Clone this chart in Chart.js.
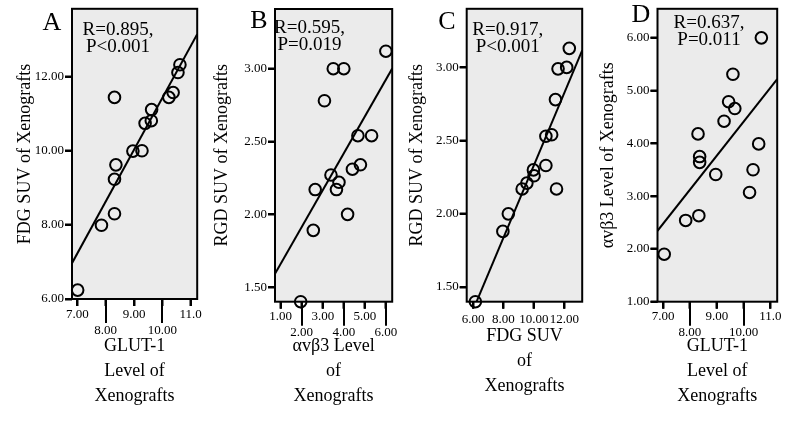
<!DOCTYPE html>
<html>
<head>
<meta charset="utf-8">
<script src="https://cdn.jsdelivr.net/npm/chart.js@4.4.1/dist/chart.umd.min.js"></script>
<style>
  html, body { margin: 0; padding: 0; background: #fff; }
  #wrap { position: relative; width: 787px; height: 423px; overflow: hidden; }
  .panel { position: absolute; top: 0; }
</style>
</head>
<body>
<div id="wrap">
  <canvas id="chartA" class="panel" width="205" height="423" style="left:0px"></canvas>
  <canvas id="chartB" class="panel" width="195" height="423" style="left:205px"></canvas>
  <canvas id="chartC" class="panel" width="190" height="423" style="left:400px"></canvas>
  <canvas id="chartD" class="panel" width="197" height="423" style="left:590px"></canvas>
</div>
<script>
// Panel A: GLUT-1 vs FDG SUV
const glutA = [7.01, 7.85, 8.31, 8.31, 8.31, 8.36, 8.96, 9.28, 9.39, 9.61, 9.62, 10.23, 10.38, 10.55, 10.62];
const fdgA = [6.24, 7.99, 8.30, 11.44, 9.23, 9.62, 9.99, 10.00, 10.74, 10.81, 11.11, 11.44, 11.57, 12.11, 12.32];

// Panel B: avb3 level vs RGD SUV
const avb3B = [6.00, 3.50, 4.00, 3.08, 4.67, 5.32, 3.39, 3.77, 3.65, 2.64, 4.41, 4.79, 4.18, 2.55, 1.95];
const rgdB = [3.12, 3.00, 3.00, 2.78, 2.54, 2.54, 2.27, 2.22, 2.17, 2.17, 2.31, 2.34, 2.00, 1.89, 1.40];

// Panel C: FDG SUV vs RGD SUV
const fdgC = [12.33, 11.59, 12.16, 11.42, 10.79, 11.17, 10.79, 9.97, 10.01, 9.54, 9.23, 11.49, 8.32, 7.96, 6.15];
const rgdC = [3.13, 2.99, 3.00, 2.78, 2.53, 2.54, 2.33, 2.30, 2.26, 2.21, 2.17, 2.17, 2.00, 1.88, 1.40];

// Panel D: GLUT-1 vs avb3 level
const glutD = [10.66, 9.60, 9.44, 9.67, 9.27, 8.30, 10.56, 8.36, 8.36, 8.96, 10.35, 10.22, 8.33, 7.84, 7.04];
const avb3D = [6.00, 5.31, 4.79, 4.66, 4.42, 4.18, 3.99, 3.75, 3.64, 3.41, 3.50, 3.07, 2.63, 2.54, 1.90];

// tick values and labels
const glutTicks = [7, 8, 9, 10, 11];
const glutTickLabels = ['7.00', '8.00', '9.00', '10.00', '11.0'];
const fdgYTicks = [6, 8, 10, 12];
const fdgYTickLabels = ['6.00', '8.00', '10.00', '12.00'];
const avb3XTicks = [1, 2, 3, 4, 5, 6];
const avb3XTickLabels = ['1.00', '2.00', '3.00', '4.00', '5.00', '6.00'];
const rgdTicks = [1.5, 2, 2.5, 3];
const rgdTickLabels = ['1.50', '2.00', '2.50', '3.00'];
const fdgXTicks = [6, 8, 10, 12];
const fdgXTickLabels = ['6.00', '8.00', '10.00', '12.00'];
const avb3YTicks = [1, 2, 3, 4, 5, 6];
const avb3YTickLabels = ['1.00', '2.00', '3.00', '4.00', '5.00', '6.00'];

const SERIF = "'Liberation Serif', 'Times New Roman', serif";

// least squares fit, drawn across the x axis range
function fitLine(xs, ys, x0, x1) {
    const n = xs.length;
    const mx = xs.reduce((a, b) => a + b, 0) / n;
    const my = ys.reduce((a, b) => a + b, 0) / n;
    let sxy = 0, sxx = 0;
    for (let i = 0; i < n; i++) {
        sxy += (xs[i] - mx) * (ys[i] - my);
        sxx += (xs[i] - mx) * (xs[i] - mx);
    }
    const b = sxy / sxx;
    return [{ x: x0, y: my + b * (x0 - mx) }, { x: x1, y: my + b * (x1 - mx) }];
}

const panelDecor = {
    id: 'panelDecor',
    beforeDraw(chart, args, o) {
        const { ctx, chartArea: a } = chart;
        ctx.save();
        ctx.fillStyle = '#ebebeb';
        ctx.fillRect(a.left, a.top, a.right - a.left, a.bottom - a.top);
        ctx.restore();
    },
    beforeDatasetsDraw(chart, args, o) {
        const { ctx, chartArea: a } = chart;
        ctx.save();
        ctx.strokeStyle = '#000';
        ctx.lineWidth = 2;
        ctx.strokeRect(a.left, a.top, a.right - a.left, a.bottom - a.top);
        ctx.restore();
    },
    afterDraw(chart, args, o) {
        const { ctx, chartArea: a } = chart;
        const xs = chart.scales.x, ys = chart.scales.y;
        ctx.save();
        ctx.strokeStyle = '#000';
        ctx.lineWidth = 2;
        ctx.lineCap = 'butt';
        // tick marks (long ones for the lower label row)
        xs.ticks.forEach((t, i) => {
            const px = Math.round(xs.getPixelForValue(t.value));
            const len = (o.stagger && i % 2 === 1) ? 24 : 7;
            ctx.beginPath();
            ctx.moveTo(px, a.bottom);
            ctx.lineTo(px, a.bottom + len);
            ctx.stroke();
        });
        ys.ticks.forEach(t => {
            const py = Math.round(ys.getPixelForValue(t.value));
            ctx.beginPath();
            ctx.moveTo(a.left, py);
            ctx.lineTo(a.left - 7, py);
            ctx.stroke();
        });
        ctx.fillStyle = '#000';
        ctx.textAlign = 'center';
        ctx.textBaseline = 'middle';
        ctx.font = '26px ' + SERIF;
        ctx.fillText(o.letter, o.letterX, o.letterY);
        ctx.font = '19px ' + SERIF;
        o.stats.forEach((s, i) => {
            ctx.fillText(s, a.left + o.statsDx, a.top + o.statsDy + i * 17);
        });
        ctx.restore();
    }
};

function makePanel(id, p) {
    const line = fitLine(p.xs, p.ys, p.xMin, p.xMax);
    return new Chart(document.getElementById(id), {
        type: 'scatter',
        data: {
            datasets: [
                {
                    data: line,
                    showLine: true,
                    borderColor: '#000',
                    borderWidth: 2,
                    pointRadius: 0,
                    clip: 0
                },
                {
                    data: p.xs.map((x, i) => ({ x: x, y: p.ys[i] })),
                    pointRadius: 5.8,
                    pointBorderWidth: 2,
                    pointBorderColor: '#000',
                    pointBackgroundColor: 'rgba(0,0,0,0)',
                    clip: false
                }
            ]
        },
        options: {
            responsive: false,
            animation: false,
            events: [],
            layout: { padding: { left: 0, right: p.padRight, top: p.padTop, bottom: 10 } },
            plugins: {
                legend: { display: false },
                tooltip: { enabled: false },
                panelDecor: p.decor
            },
            scales: {
                x: {
                    type: 'linear',
                    min: p.xMin,
                    max: p.xMax,
                    afterBuildTicks: s => { s.ticks = p.xTicks.map(v => ({ value: v })); },
                    afterFit: s => { s.height = p.xHeight; },
                    border: { display: false },
                    grid: { display: true, drawOnChartArea: false, drawTicks: true, tickLength: 7, tickWidth: 2, tickColor: '#000' },
                    ticks: {
                        autoSkip: false,
                        maxRotation: 0,
                        padding: p.xTickPad,
                        color: '#000',
                        font: { family: SERIF, size: 13, lineHeight: 1.25 },
                        callback: (v, i) => (p.decor.stagger && i % 2 === 1) ? ['', p.xTickLabels[i]] : p.xTickLabels[i]
                    },
                    title: {
                        display: true,
                        text: p.xTitle,
                        color: '#000',
                        font: { family: SERIF, size: 18, lineHeight: 1.4 },
                        padding: { top: 0, bottom: p.xTitlePad }
                    }
                },
                y: {
                    type: 'linear',
                    min: p.yMin,
                    max: p.yMax,
                    afterBuildTicks: s => { s.ticks = p.yTicks.map(v => ({ value: v })); },
                    afterFit: s => { s.width = p.yWidth; },
                    border: { display: false },
                    grid: { display: true, drawOnChartArea: false, drawTicks: true, tickLength: 7, tickWidth: 2, tickColor: '#000' },
                    ticks: {
                        autoSkip: false,
                        padding: 1,
                        color: '#000',
                        font: { family: SERIF, size: 13 },
                        callback: (v, i) => p.yTickLabels[i]
                    },
                    title: {
                        display: true,
                        text: p.yTitle,
                        color: '#000',
                        font: { family: SERIF, size: 18, lineHeight: 1.2 },
                        padding: { top: p.yTitlePad, bottom: 0 }
                    }
                }
            }
        },
        plugins: [panelDecor]
    });
}

makePanel('chartA', {
    xs: glutA, ys: fdgA,
    xMin: 6.81, xMax: 11.23, yMin: 6, yMax: 13.83,
    xTicks: glutTicks, xTickLabels: glutTickLabels,
    yTicks: fdgYTicks, yTickLabels: fdgYTickLabels,
    xTitle: ['GLUT-1', 'Level of', 'Xenografts'], yTitle: 'FDG SUV of Xenografts',
    padRight: 3, padTop: 8, xHeight: 114, yWidth: 72, xTitlePad: 4, yTitlePad: 14, xTickPad: 0,
    decor: { stagger: true, letter: 'A', letterX: 52, letterY: 23, stats: ['R=0.895,', 'P<0.001'], statsDx: 46, statsDy: 21 }
});

makePanel('chartB', {
    xs: avb3B, ys: rgdB,
    xMin: 0.73, xMax: 6.3, yMin: 1.40, yMax: 3.41,
    xTicks: avb3XTicks, xTickLabels: avb3XTickLabels,
    yTicks: rgdTicks, yTickLabels: rgdTickLabels,
    xTitle: ['αvβ3 Level', 'of', 'Xenografts'], yTitle: 'RGD SUV of Xenografts',
    padRight: 3.3, padTop: 9, xHeight: 111.3, yWidth: 70, xTitlePad: 4, yTitlePad: 6, xTickPad: 0,
    decor: { stagger: true, letter: 'B', letterX: 54, letterY: 21, stats: ['R=0.595,', 'P=0.019'], statsDx: 34.5, statsDy: 19 }
});

makePanel('chartC', {
    xs: fdgC, ys: rgdC,
    xMin: 5.58, xMax: 13.18, yMin: 1.40, yMax: 3.40,
    xTicks: fdgXTicks, xTickLabels: fdgXTickLabels,
    yTicks: rgdTicks, yTickLabels: rgdTickLabels,
    xTitle: ['FDG SUV', 'of', 'Xenografts'], yTitle: 'RGD SUV of Xenografts',
    padRight: 3, padTop: 8, xHeight: 111.3, yWidth: 66.7, xTitlePad: 14, yTitlePad: 6, xTickPad: 3,
    decor: { stagger: false, letter: 'C', letterX: 47, letterY: 22, stats: ['R=0.917,', 'P<0.001'], statsDx: 41, statsDy: 21 }
});

makePanel('chartD', {
    xs: glutD, ys: avb3D,
    xMin: 6.79, xMax: 11.25, yMin: 1, yMax: 6.55,
    xTicks: glutTicks, xTickLabels: glutTickLabels,
    yTicks: avb3YTicks, yTickLabels: avb3YTickLabels,
    xTitle: ['GLUT-1', 'Level of', 'Xenografts'], yTitle: 'αvβ3 Level of Xenografts',
    padRight: 9.8, padTop: 4, xHeight: 111.3, yWidth: 67.5, xTitlePad: 4, yTitlePad: 7, xTickPad: 0,
    decor: { stagger: true, letter: 'D', letterX: 51, letterY: 15, stats: ['R=0.637,', 'P=0.011'], statsDx: 51.5, statsDy: 14 }
});
</script>
</body>
</html>
